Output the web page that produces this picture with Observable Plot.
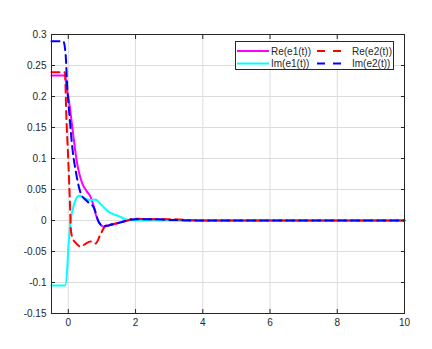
<!DOCTYPE html>
<html>
<head>
<meta charset="utf-8">
<script src="https://cdn.jsdelivr.net/npm/d3@7"></script>
<script src="https://cdn.jsdelivr.net/npm/@observablehq/plot@0.6"></script>
<style>
  html, body { margin: 0; padding: 0; background: #fff; }
  #chart svg { display: block; }
</style>
</head>
<body>
<div id="chart"></div>
<script>
// Series: time t and values
const reE1_t = [-0.5, -0.1, -0.05, 0.02, 0.12, 0.25, 0.42, 0.55, 0.66, 0.75, 0.81, 0.91, 1.06, 1.2, 1.35, 1.55, 1.75, 2.0, 2.5, 3.0, 4.0, 10];
const reE1_v = [0.234, 0.234, 0.215, 0.193, 0.150, 0.096, 0.059, 0.047, 0.038, 0.024, 0.011, -0.003, -0.010, -0.008, -0.006, -0.003, 0.000, 0.002, 0.002, 0.001, 0.000, 0.000];

const imE1_t = [-0.5, -0.1, -0.03, 0.0, 0.07, 0.17, 0.32, 0.45, 0.56, 0.7, 0.81, 0.95, 1.06, 1.2, 1.35, 1.5, 1.7, 2.0, 3.0, 10];
const imE1_v = [-0.105, -0.105, -0.076, -0.044, 0.000, 0.026, 0.040, 0.037, 0.034, 0.033, 0.034, 0.027, 0.021, 0.014, 0.010, 0.007, 0.002, 0.000, 0.000, 0.000];

const reE2_t = [-0.5, -0.1, -0.06, 0.0, 0.04, 0.08, 0.14, 0.22, 0.37, 0.5, 0.66, 0.81, 0.96, 1.1, 1.25, 1.45, 1.7, 1.95, 2.5, 3.0, 4.0, 10];
const reE2_v = [0.239, 0.239, 0.170, 0.096, 0.042, -0.017, -0.030, -0.036, -0.042, -0.038, -0.034, -0.037, -0.022, -0.009, -0.006, -0.0045, -0.001, 0.003, 0.002, 0.002, 0.000, 0.000];

const imE2_t = [-0.5, -0.15, -0.08, -0.03, 0.04, 0.12, 0.22, 0.37, 0.56, 0.76, 0.91, 1.06, 1.2, 1.35, 1.55, 1.75, 2.0, 2.5, 3.0, 4.0, 10];
const imE2_v = [0.289, 0.289, 0.268, 0.214, 0.166, 0.117, 0.080, 0.044, 0.031, 0.021, -0.003, -0.009, -0.008, -0.006, -0.003, 0.000, 0.002, 0.002, 0.001, 0.000, 0.000];

const seriesNames = ["Re(e1(t))", "Im(e1(t))", "Re(e2(t))", "Im(e2(t))"];
const seriesColors = ["#ff00ff", "#00ffff", "#ff0000", "#0000ff"];
const seriesDashed = [false, false, true, true];

const xTicks = [0, 2, 4, 6, 8, 10];
const yTicks = [-0.15, -0.1, -0.05, 0, 0.05, 0.1, 0.15, 0.2, 0.25, 0.3];

const toRows = (ts, vs, name) => ts.map((t, i) => ({t, v: vs[i], name}));
const series = [
  toRows(reE1_t, reE1_v, seriesNames[0]),
  toRows(imE1_t, imE1_v, seriesNames[1]),
  toRows(reE2_t, reE2_v, seriesNames[2]),
  toRows(imE2_t, imE2_v, seriesNames[3])
];

const W = 432, H = 349;
const axisColor = "#262626";
const fontFamily = "'Liberation Sans', Arial, Helvetica, sans-serif";

const lineMarks = series.map((rows, i) => Plot.line(rows, {
  x: "t", y: "v",
  stroke: seriesColors[i],
  strokeWidth: 2,
  strokeDasharray: seriesDashed[i] ? "8,5" : null,
  curve: "monotone-x"
}));

const chart = Plot.plot({
  width: W,
  height: H,
  marginLeft: 51,
  marginRight: 28,
  marginTop: 34,
  marginBottom: 36,
  style: {fontFamily, fontSize: "10px", color: axisColor, background: "#fff"},
  x: {domain: [-0.5, 10], ticks: xTicks, label: null},
  y: {domain: [-0.15, 0.3], ticks: yTicks, label: null},
  marks: [
    Plot.gridX(xTicks, {stroke: "#dcdcdc", strokeOpacity: 1}),
    Plot.gridY(yTicks, {stroke: "#dcdcdc", strokeOpacity: 1}),
    ...lineMarks,
    Plot.axisX(xTicks, {tickSize: -4, tickPadding: 9, stroke: axisColor, tickFormat: d => String(d), fill: axisColor}),
    Plot.axisX(xTicks, {anchor: "top", tickSize: -4, tickFormat: () => "", label: null, stroke: axisColor}),
    Plot.axisY(yTicks, {tickSize: -4, tickPadding: 9, stroke: axisColor, tickFormat: d => String(+d.toFixed(2)), fill: axisColor}),
    Plot.axisY(yTicks, {anchor: "right", tickSize: -4, tickFormat: () => "", label: null, stroke: axisColor}),
    Plot.frame({stroke: axisColor, strokeWidth: 1})
  ]
});

document.getElementById("chart").appendChild(chart);

// Legend inside the plot area (top right)
const svg = d3.select(chart);
const lg = svg.append("g").attr("font-family", fontFamily).attr("font-size", 10)
  .attr("fill", axisColor).attr("text-anchor", "start");
lg.append("rect").attr("x", 235.5).attr("y", 41.5).attr("width", 158).attr("height", 28)
  .attr("fill", "#fff").attr("stroke", axisColor).attr("stroke-width", 1);
const legendPos = [
  {x0: 237, x1: 269, tx: 271, y: 51},
  {x0: 237, x1: 269, tx: 271, y: 63.5},
  {x0: 317, x1: 346, tx: 352, y: 51},
  {x0: 317, x1: 346, tx: 352, y: 63.5}
];
seriesNames.forEach((name, i) => {
  const p = legendPos[i];
  lg.append("line").attr("x1", p.x0).attr("x2", p.x1).attr("y1", p.y).attr("y2", p.y)
    .attr("stroke", seriesColors[i]).attr("stroke-width", 2)
    .attr("stroke-dasharray", seriesDashed[i] ? "8,8" : null);
  lg.append("text").attr("x", p.tx).attr("y", p.y).attr("dy", "0.35em")
    .attr("text-anchor", "start").text(name);
});
</script>
</body>
</html>
